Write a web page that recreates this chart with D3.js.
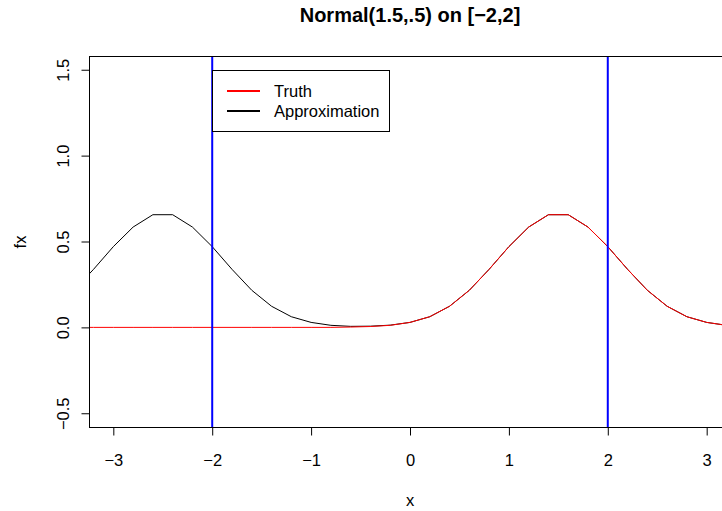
<!DOCTYPE html>
<html>
<head>
<meta charset="utf-8">
<script src="https://cdn.jsdelivr.net/npm/d3@7"></script>
<style>
  html, body { margin: 0; padding: 0; background: #fff; }
  svg { display: block; font-family: "Liberation Sans", Arial, Helvetica, sans-serif; }
</style>
</head>
<body>
<svg id="chart" width="722" height="511"></svg>
<script>
// Evaluation grid
const xGrid = [-3.4, -3.2, -3.0, -2.8, -2.6, -2.4, -2.2, -2.0, -1.8, -1.6, -1.4, -1.2,
               -1.0, -0.8, -0.6, -0.4, -0.2, 0.0, 0.2, 0.4, 0.6, 0.8, 1.0, 1.2,
               1.4, 1.6, 1.8, 2.0, 2.2, 2.4, 2.6, 2.8, 3.0, 3.2, 3.4];

// True density values
const truth = [0, 0, 0, 0, 0, 0, 0, 0, 0, 0, 0, 0,
               0, 0, 0.002, 0.005, 0.012, 0.029, 0.062, 0.123, 0.216, 0.338, 0.470, 0.584,
               0.656, 0.656, 0.584, 0.470, 0.338, 0.216, 0.123, 0.062, 0.029, 0.012, 0.005];

// Approximation values
const approximation = [0.216, 0.338, 0.470, 0.584, 0.656, 0.656, 0.584, 0.470, 0.338, 0.216, 0.123, 0.062,
                       0.029, 0.012, 0.006, 0.007, 0.013, 0.029, 0.062, 0.123, 0.216, 0.338, 0.470, 0.584,
                       0.656, 0.656, 0.584, 0.470, 0.338, 0.216, 0.123, 0.062, 0.029, 0.012, 0.005];

// Interval bounds
const bounds = [-2, 2];

const xTicks = [-3, -2, -1, 0, 1, 2, 3];
const yTicks = [-0.5, 0.0, 0.5, 1.0, 1.5];
const legendLabels = ["Truth", "Approximation"];
const legendColors = ["#ff0000", "#000000"];

const svg = d3.select("#chart");
const plot = { left: 89, right: 731, top: 56, bottom: 427 };
const fs = 16.5;

const x = d3.scaleLinear().domain([-3.246, 3.246]).range([plot.left, plot.right]);
const y = d3.scaleLinear().domain([-0.58, 1.58]).range([plot.bottom, plot.top]);

const fmtMinus = s => String(s).replace("-", "\u2212");

svg.append("defs").append("clipPath").attr("id", "clip")
  .append("rect")
  .attr("x", plot.left).attr("y", plot.top)
  .attr("width", plot.right - plot.left).attr("height", plot.bottom - plot.top);

const body = svg.append("g").attr("clip-path", "url(#clip)");

const line = d3.line().x((d, i) => x(xGrid[i])).y(d => y(d));

body.append("path").datum(approximation)
  .attr("d", line).attr("fill", "none").attr("stroke", "#000").attr("stroke-width", 1);

body.append("path").datum(truth)
  .attr("d", line).attr("fill", "none").attr("stroke", "#ff0000").attr("stroke-width", 1);

body.selectAll("line.bound").data(bounds).enter().append("line")
  .attr("class", "bound")
  .attr("x1", d => x(d)).attr("x2", d => x(d))
  .attr("y1", plot.top).attr("y2", plot.bottom)
  .attr("stroke", "#0000ff").attr("stroke-width", 2);

// Plot frame
svg.append("rect")
  .attr("x", plot.left + 0.5).attr("y", plot.top + 0.5)
  .attr("width", plot.right - plot.left).attr("height", plot.bottom - plot.top)
  .attr("fill", "none").attr("stroke", "#000").attr("stroke-width", 1);

// Bottom axis
const xAxis = svg.append("g")
  .attr("transform", `translate(0,${plot.bottom + 0.5})`)
  .call(d3.axisBottom(x).tickValues(xTicks).tickSize(8).tickSizeOuter(0)
        .tickFormat(d => fmtMinus(d3.format("d")(d))));
xAxis.select(".domain").remove();
xAxis.selectAll("text").attr("dy", null).attr("y", 38)
  .attr("font-size", fs).attr("font-family", null).attr("fill", "#000");

// Left axis
const yAxis = svg.append("g")
  .attr("transform", `translate(${plot.left + 0.5},0)`)
  .call(d3.axisLeft(y).tickValues(yTicks).tickSize(8).tickSizeOuter(0)
        .tickFormat(d => fmtMinus(d3.format(".1f")(d))));
yAxis.select(".domain").remove();
yAxis.selectAll("text")
  .attr("x", null).attr("dy", null)
  .attr("transform", "translate(-21,0) rotate(-90)")
  .attr("text-anchor", "middle")
  .attr("font-size", fs).attr("font-family", null).attr("fill", "#000");

// Titles
svg.append("text")
  .attr("x", 410).attr("y", 22)
  .attr("text-anchor", "middle").attr("font-weight", "bold").attr("font-size", 20)
  .text("Normal(1.5,.5) on [\u22122,2]");

svg.append("text")
  .attr("x", 410).attr("y", 506)
  .attr("text-anchor", "middle").attr("font-size", fs)
  .text("x");

svg.append("text")
  .attr("transform", "translate(26,242) rotate(-90)")
  .attr("text-anchor", "middle").attr("font-size", fs)
  .text("fx");

// Legend
const legend = svg.append("g");
legend.append("rect")
  .attr("x", 212.5).attr("y", 70.5).attr("width", 177).attr("height", 61)
  .attr("fill", "#fff").attr("stroke", "#000").attr("stroke-width", 1);

legendLabels.forEach((lab, i) => {
  const ly = 91 + i * 20;
  legend.append("line")
    .attr("x1", 227).attr("x2", 260).attr("y1", ly).attr("y2", ly)
    .attr("stroke", legendColors[i]).attr("stroke-width", 2);
  legend.append("text")
    .attr("x", 274).attr("y", ly + 6)
    .attr("font-size", fs)
    .text(lab);
});
</script>
</body>
</html>
